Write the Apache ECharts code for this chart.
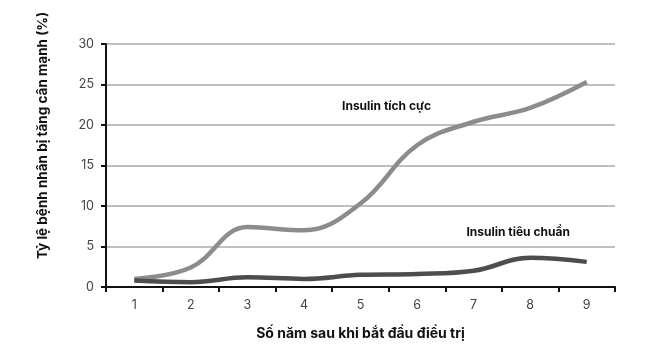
<!DOCTYPE html>
<html><head><meta charset="utf-8">
<script src="https://cdn.jsdelivr.net/npm/echarts@6/dist/echarts.min.js"></script>
<style>html,body{margin:0;padding:0;background:#fff}#c{width:652px;height:362px}</style>
</head><body><div id="c"></div>
<script>
const categories = ['1','2','3','4','5','6','7','8','9'];
const intensive = [1.0, 2.4, 7.4, 7.0, 10.3, 17.5, 20.4, 22.1, 25.3];
const standard = [0.8, 0.6, 1.2, 1.0, 1.5, 1.6, 2.0, 3.6, 3.1];
const yTicks = [0, 5, 10, 15, 20, 25, 30];
const intensiveName = 'Insulin tích cực';
const standardName = 'Insulin tiêu chuẩn';
const xName = 'Số năm sau khi bắt đầu điều trị';
const yName = 'Tỷ lệ bệnh nhân bị tăng cân mạnh (%)';

const font = 'Inter, Roboto, sans-serif';
const chart = echarts.init(document.getElementById('c'));
chart.setOption({
  animation: false,
  grid: {left: 106, top: 44, right: 37, bottom: 75, containLabel: false, outerBoundsMode: 'none'},
  xAxis: {
    type: 'category', data: categories, boundaryGap: true,
    name: xName, nameLocation: 'middle', nameGap: 40,
    nameTextStyle: {fontFamily: font, fontWeight: 'bold', fontSize: 14, color: '#111'},
    axisLine: {lineStyle: {color: '#111', width: 2}},
    axisTick: {show: true, length: 5, inside: false, lineStyle: {color: '#111', width: 2}},
    axisLabel: {fontFamily: font, fontSize: 12.5, color: '#444', margin: 12}
  },
  yAxis: {
    type: 'value', min: yTicks[0], max: yTicks[yTicks.length-1], interval: 5,
    name: yName, nameLocation: 'middle', nameGap: 56,
    nameTextStyle: {fontFamily: font, fontWeight: 'bold', fontSize: 13.5, color: '#111', padding: [0, 0, 0, 60]},
    axisLine: {show: true, lineStyle: {color: '#111', width: 2}},
    axisTick: {show: true, length: 5, lineStyle: {color: '#111', width: 2}},
    axisLabel: {fontFamily: font, fontSize: 12.5, color: '#444', margin: 12},
    splitLine: {lineStyle: {color: '#aaa', width: 1.5}}
  },
  series: [
    {
      name: intensiveName, type: 'line', data: intensive, smooth: 0.4,
      symbol: 'none', lineStyle: {color: '#8c8c8c', width: 4.5}, z: 3,
      markPoint: {
        symbol: 'circle', symbolSize: 1, itemStyle: {color: 'rgba(0,0,0,0)'}, silent: true,
        label: {show: true, position: 'inside', offset: [26, 0], formatter: intensiveName, fontFamily: font, fontWeight: 'bold', fontSize: 12, color: '#111'},
        data: [{coord: ['5', 22.3], value: 0}]
      }
    },
    {
      name: standardName, type: 'line', data: standard, smooth: 0.4,
      symbol: 'none', lineStyle: {color: '#4d4d4d', width: 4.5}, z: 4,
      markPoint: {
        symbol: 'circle', symbolSize: 1, itemStyle: {color: 'rgba(0,0,0,0)'}, silent: true,
        label: {show: true, position: 'inside', offset: [-12, 0], formatter: standardName, fontFamily: font, fontWeight: 'bold', fontSize: 12, color: '#111'},
        data: [{coord: ['8', 6.7], value: 0}]
      }
    }
  ]
});
</script></body></html>
